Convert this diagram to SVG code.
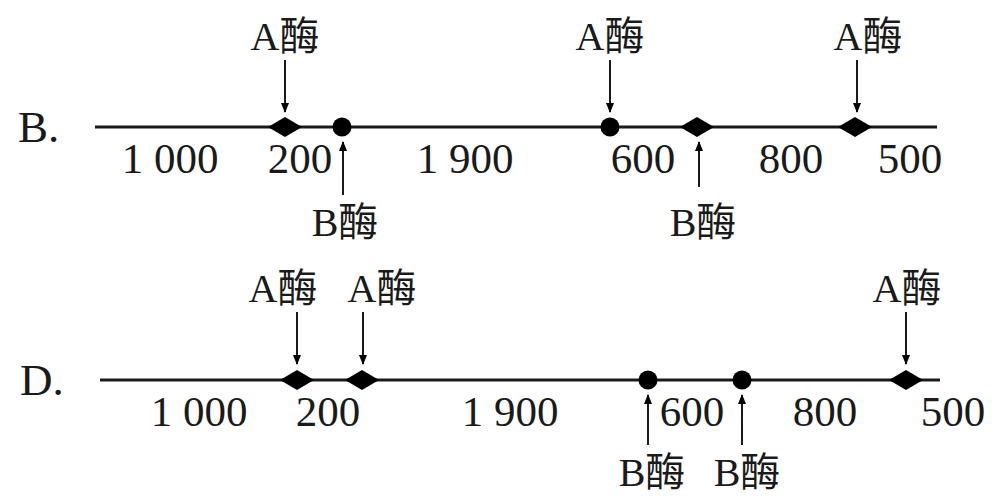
<svg xmlns="http://www.w3.org/2000/svg" width="1006" height="497" viewBox="0 0 1006 497">
<style>
text{font-family:"Liberation Serif","Noto Sans CJK SC",serif;fill:#1a1a1a;text-anchor:middle}
.lbl{font-size:40px}
.num{font-size:43px}
.opt{font-size:45px;text-anchor:start}
.axis{stroke:#1a1a1a;stroke-width:3;fill:none}
.arr{stroke:#1a1a1a;stroke-width:2;fill:none;marker-end:url(#ah)}
.dot{fill:#000}
</style>
<defs>
<marker id="ah" viewBox="0 0 10 10" refX="9" refY="5" markerWidth="5" markerHeight="5" markerUnits="strokeWidth" orient="auto">
<path d="M0,1 L10,5 L0,9 z" fill="#000"/>
</marker>
</defs>
<rect width="1006" height="497" fill="#fff"/>
<g id="rowB">
<text class="opt" x="18" y="142">B.</text>
<line class="axis" x1="95" y1="127" x2="937" y2="127"/>
<text class="num" x="170" y="173">1 000</text>
<text class="num" x="300" y="173">200</text>
<text class="num" x="465" y="173">1 900</text>
<text class="num" x="643" y="173">600</text>
<text class="num" x="791" y="173">800</text>
<text class="num" x="910" y="173">500</text>
</g>
<g id="nodesB">
<g id="b1"><polygon class="dot" points="268,127 285,117 302,127 285,137"/></g>
<g id="b2"><circle class="dot" cx="342" cy="127" r="9.5"/></g>
<g id="b3"><circle class="dot" cx="610" cy="127" r="9.5"/></g>
<g id="b4"><polygon class="dot" points="680,127 697,117 714,127 697,137"/></g>
<g id="b5"><polygon class="dot" points="838,127 855,117 872,127 855,137"/></g>
</g>
<g id="labelsB">
<text class="lbl" x="285" y="50">A酶</text>
<text class="lbl" x="610" y="50">A酶</text>
<text class="lbl" x="868" y="50">A酶</text>
<text class="lbl" x="345" y="236">B酶</text>
<text class="lbl" x="703" y="236">B酶</text>
</g>
<g id="rowD">
<text class="opt" x="20" y="395">D.</text>
<line class="axis" x1="100" y1="380" x2="940" y2="380"/>
<text class="num" x="199" y="426">1 000</text>
<text class="num" x="328" y="426">200</text>
<text class="num" x="510" y="426">1 900</text>
<text class="num" x="692" y="426">600</text>
<text class="num" x="825" y="426">800</text>
<text class="num" x="953" y="426">500</text>
</g>
<g id="nodesD">
<g id="d1"><polygon class="dot" points="280,380 297,370 314,380 297,390"/></g>
<g id="d2"><polygon class="dot" points="345,380 362,370 379,380 362,390"/></g>
<g id="d3"><circle class="dot" cx="648" cy="380" r="9.5"/></g>
<g id="d4"><circle class="dot" cx="742" cy="380" r="9.5"/></g>
<g id="d5"><polygon class="dot" points="889,380 906,370 923,380 906,390"/></g>
</g>
<g id="labelsD">
<text class="lbl" x="283" y="302">A酶</text>
<text class="lbl" x="382" y="302">A酶</text>
<text class="lbl" x="907" y="302">A酶</text>
<text class="lbl" x="652" y="486">B酶</text>
<text class="lbl" x="747" y="486">B酶</text>
</g>
<g id="connectors">
<line class="arr" x1="285" y1="60" x2="285" y2="112"/>
<line class="arr" x1="610" y1="60" x2="610" y2="112"/>
<line class="arr" x1="857" y1="60" x2="857" y2="112"/>
<line class="arr" x1="343" y1="195" x2="343" y2="142"/>
<line class="arr" x1="699" y1="187" x2="699" y2="142"/>
<line class="arr" x1="297" y1="312" x2="297" y2="364"/>
<line class="arr" x1="363" y1="312" x2="363" y2="364"/>
<line class="arr" x1="906" y1="312" x2="906" y2="364"/>
<line class="arr" x1="648" y1="445" x2="648" y2="395"/>
<line class="arr" x1="742" y1="445" x2="742" y2="395"/>
</g>
</svg>
